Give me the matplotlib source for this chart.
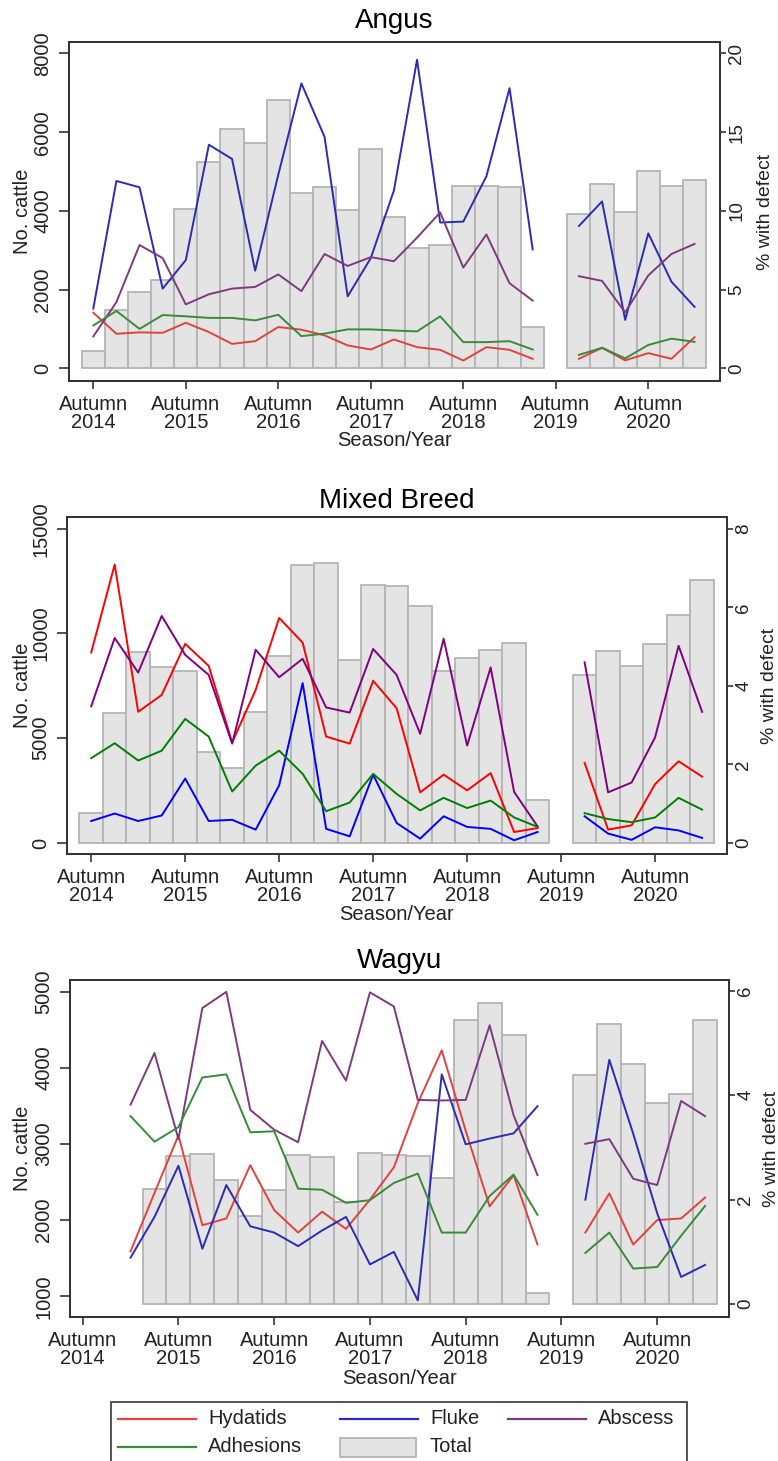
import numpy as np
import matplotlib
matplotlib.use("Agg")
import matplotlib.pyplot as plt
from matplotlib.patches import Rectangle

plt.rcParams["font.family"] = ["Liberation Sans", "DejaVu Sans"]
TXT = "#222222"
W, H = 778, 1461
nan = np.nan

# season index 0 = Autumn 2014, 4 = Autumn 2015, ... (20 = Autumn 2019, no data)
seasons = np.arange(27)
tick_pos = [0, 4, 8, 12, 16, 20, 24]
tick_lab = ["Autumn\n%d" % y for y in range(2014, 2021)]

# ---------------- data ----------------
angus_total = [450, 1470, 1930, 2255, 4050, 5245, 6085, 5730, 6830, 4460, 4605, 4010, 5585, 3850,
               3055, 3125, 4640, 4640, 4605, 1055, nan, 3915, 4690, 3965, 5020, 4645, 4790]
angus_hyd = [3.53, 2.19, 2.28, 2.25, 2.89, 2.3, 1.55, 1.72, 2.62, 2.45, 2.09, 1.45, 1.19, 1.83,
             1.34, 1.17, 0.49, 1.34, 1.17, 0.6, nan, 0.6, 1.3, 0.5, 0.96, 0.6, 1.97]
angus_fluke = [3.79, 11.9, 11.5, 5.06, 6.87, 14.2, 13.3, 6.2, 12.3, 18.1, 14.7, 4.57, 7.0, 11.3,
               19.6, 9.26, 9.32, 12.2, 17.8, 7.55, nan, 9.04, 10.6, 3.07, 8.57, 5.5, 3.9]
angus_absc = [2.02, 4.2, 7.83, 7.0, 4.06, 4.7, 5.06, 5.17, 5.96, 4.9, 7.26, 6.5, 7.06, 6.8,
              8.3, 9.9, 6.4, 8.5, 5.4, 4.3, nan, 5.85, 5.55, 3.55, 5.9, 7.26, 7.9]
angus_adh = [2.72, 3.64, 2.5, 3.38, 3.3, 3.2, 3.2, 3.04, 3.4, 2.04, 2.2, 2.47, 2.47, 2.4,
             2.34, 3.3, 1.66, 1.66, 1.72, 1.19, nan, 0.85, 1.3, 0.63, 1.48, 1.88, 1.68]

mixed_total = [1430, 6200, 9110, 8400, 8190, 4330, 3580, 6235, 8940, 13280, 13345, 8750, 12310, 12280,
               11290, 8220, 8830, 9195, 9530, 2035, nan, 8000, 9180, 8430, 9510, 10865, 12535]
mixed_hyd = [4.85, 7.09, 3.34, 3.77, 5.07, 4.51, 2.56, 3.9, 5.73, 5.1, 2.71, 2.53, 4.13, 3.43,
             1.29, 1.74, 1.34, 1.78, 0.28, 0.38, nan, 2.04, 0.34, 0.45, 1.5, 2.08, 1.69]
mixed_fluke = [0.56, 0.75, 0.56, 0.7, 1.64, 0.56, 0.59, 0.34, 1.47, 4.07, 0.36, 0.17, 1.74, 0.51,
               0.11, 0.68, 0.41, 0.36, 0.07, 0.28, nan, 0.68, 0.24, 0.08, 0.4, 0.32, 0.13]
mixed_absc = [3.48, 5.22, 4.34, 5.78, 4.79, 4.28, 2.53, 4.92, 4.22, 4.69, 3.45, 3.32, 4.94, 4.28,
              2.78, 5.2, 2.48, 4.47, 1.3, 0.42, nan, 4.6, 1.29, 1.54, 2.69, 5.02, 3.34]
mixed_adh = [2.16, 2.54, 2.1, 2.35, 3.16, 2.71, 1.31, 1.97, 2.35, 1.76, 0.81, 1.03, 1.76, 1.25,
             0.83, 1.15, 0.89, 1.08, 0.65, 0.41, nan, 0.76, 0.61, 0.53, 0.65, 1.15, 0.85]

wagyu_total = [nan, nan, nan, 2415, 2846, 2864, 2533, 2048, 2397, 2859, 2823, 2235, 2882, 2859,
               2846, 2556, 4628, 4846, 4438, 1045, nan, 3912, 4574, 4048, 3540, 3662, 4628]
wagyu_hyd = [nan, nan, 1.01, 2.13, 3.23, 1.51, 1.64, 2.66, 1.8, 1.37, 1.77, 1.44, 2.0, 2.62,
             3.85, 4.86, 3.32, 1.87, 2.47, 1.14, nan, 1.37, 2.12, 1.14, 1.61, 1.64, 2.04]
wagyu_fluke = [nan, nan, 0.89, 1.67, 2.65, 1.06, 2.28, 1.49, 1.37, 1.11, 1.41, 1.67, 0.76, 1.0,
               0.07, 4.4, 3.06, 3.17, 3.27, 3.79, nan, 2.0, 4.68, 3.26, 1.74, 0.52, 0.75]
wagyu_absc = [nan, nan, 3.82, 4.81, 3.16, 5.67, 5.98, 3.72, 3.34, 3.1, 5.04, 4.28, 5.97, 5.7,
              3.91, 3.9, 3.91, 5.34, 3.62, 2.47, nan, 3.07, 3.16, 2.4, 2.28, 3.89, 3.6]
wagyu_adh = [nan, nan, 3.6, 3.11, 3.39, 4.34, 4.4, 3.29, 3.31, 2.21, 2.19, 1.94, 1.99, 2.32,
             2.5, 1.37, 1.37, 2.07, 2.48, 1.71, nan, 0.98, 1.37, 0.68, 0.71, 1.31, 1.88]

soft = {"hyd": "#e2423c", "fluke": "#2b2bb5", "absc": "#7d3a80", "adh": "#3a8a3a"}
crisp = {"hyd": "#ff0000", "fluke": "#0000ff", "absc": "#800080", "adh": "#008000"}

fig = plt.figure(figsize=(W / 100, H / 100), dpi=100)


def panel(box, title, ty, xly, rlx, xlim, ylim, yticks, rylim, ryticks, base,
          total, hyd, fluke, absc, adh, col):
    l, r, t, b = box
    ax = fig.add_axes([l / W, 1 - b / H, (r - l) / W, (b - t) / H])
    tot = np.array(total, dtype=float)
    m = ~np.isnan(tot)
    ax.bar(seasons[m], tot[m] - base, bottom=base, width=1.0, color="#e4e4e4",
           edgecolor="#b4b4b4", linewidth=1.3)
    ax.set_xlim(*xlim)
    ax.set_ylim(*ylim)
    ax.set_yticks(yticks)
    ax.set_xticks(tick_pos)
    ax.set_xticklabels(tick_lab, linespacing=0.95)
    ax.tick_params(axis="y", labelrotation=90, length=7, width=1.1, pad=5,
                   labelsize=14.5, colors=TXT)
    ax.tick_params(axis="x", length=6, width=1.1, pad=4, labelsize=14.5, colors=TXT)
    for lab in ax.get_yticklabels():
        lab.set_va("center")
    ax2 = ax.twinx()
    ax2.plot(seasons, hyd, color=col["hyd"], lw=1.4)
    ax2.plot(seasons, fluke, color=col["fluke"], lw=1.4)
    ax2.plot(seasons, absc, color=col["absc"], lw=1.4)
    ax2.plot(seasons, adh, color=col["adh"], lw=1.4)
    ax2.set_ylim(*rylim)
    ax2.set_yticks(ryticks)
    ax2.tick_params(axis="y", labelrotation=90, length=4.5, width=1.1, pad=1.5,
                    labelsize=13.5, colors=TXT)
    for lab in ax2.get_yticklabels():
        lab.set_va("center")
    for a in (ax, ax2):
        for s in a.spines.values():
            s.set_linewidth(1.3)
            s.set_color("#333333")
    cy = 1 - (t + b) / 2 / H
    fig.text((l + r) / 2 / W, 1 - ty / H, title, ha="center", va="baseline",
             fontsize=20, color="black")
    fig.text(22 / W, cy, "No. cattle", rotation=90, ha="center", va="center",
             fontsize=14.5, color=TXT)
    fig.text(rlx / W, cy, "% with defect", rotation=90, ha="center", va="center",
             fontsize=14, color=TXT)
    fig.text((l + r) / 2 / W, 1 - xly / H, "Season/Year", ha="center", va="center",
             fontsize=14.5, color=TXT)


panel((69, 720, 42, 381), "Angus", 28, 441, 765, (-1.05, 27.1), (-323, 8292),
      [0, 2000, 4000, 6000, 8000], (-0.81, 20.73), [0, 5, 10, 15, 20], 0,
      angus_total, angus_hyd, angus_fluke, angus_absc, angus_adh, soft)
panel((67, 727, 517, 854), "Mixed Breed", 508, 914, 770, (-1.03, 27.06), (-525, 15558),
      [0, 5000, 10000, 15000], (-0.28, 8.30), [0, 2, 4, 6, 8], 0,
      mixed_total, mixed_hyd, mixed_fluke, mixed_absc, mixed_adh, crisp)
panel((70, 729, 980, 1317), "Wagyu", 968, 1378, 771, (-0.53, 27.0), (728, 5154),
      [1000, 2000, 3000, 4000, 5000], (-0.247, 6.207), [0, 2, 4, 6], 897,
      wagyu_total, wagyu_hyd, wagyu_fluke, wagyu_absc, wagyu_adh, soft)

# ---------------- legend (box runs off the bottom edge) ----------------
lax = fig.add_axes([0, 0, 1, 1])
lax.set_xlim(0, W)
lax.set_ylim(H, 0)
lax.axis("off")
lax.add_patch(Rectangle((111, 1402), 576, 80, facecolor="white", edgecolor="#444444", lw=1.3))
entries = [(118, 1419, "line", soft["hyd"], "Hydatids"),
           (340, 1419, "line", soft["fluke"], "Fluke"),
           (508, 1419, "line", soft["absc"], "Abscess"),
           (118, 1447, "line", soft["adh"], "Adhesions"),
           (340, 1447, "box", "#e4e4e4", "Total")]
for x0, y0, kind, c, name in entries:
    if kind == "line":
        lax.plot([x0, x0 + 78], [y0, y0], color=c, lw=1.6)
    else:
        lax.add_patch(Rectangle((x0, y0 - 9), 76, 19, facecolor=c, edgecolor="#b4b4b4", lw=1.3))
    lax.text(x0 + 90, y0, name, ha="left", va="center", fontsize=14.5, color=TXT)

fig.savefig("out.png", dpi=100)
